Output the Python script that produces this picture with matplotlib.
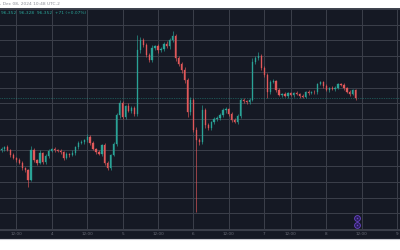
import matplotlib
matplotlib.use("Agg")
import matplotlib.pyplot as plt
from matplotlib.patches import Rectangle
from matplotlib.lines import Line2D

# ---------------- data (hourly candles) ----------------
hours = list(range(7, 128))
first_open = 93000
close = [
    93090, 93220, 93030, 92710, 92520, 92390, 92200, 91880, 91760, 91120,
    93030, 92390, 92200, 92840, 92270, 92650, 92970, 93090, 93030, 92970,
    92900, 92520, 92780, 92710, 92840, 93220, 93480, 93540, 93670, 93860,
    93480, 93090, 92900, 92780, 93350, 92200, 91880, 92710, 93410, 95260,
    96020, 95130, 95830, 95510, 95700, 95320, 99390, 100030, 99710, 99070,
    98750, 99520, 99640, 99390, 99450, 99770, 99640, 100030, 100280, 98880,
    98500, 98120, 97480, 95450, 96210, 94300, 93670, 93540, 95570, 94620,
    94430, 94810, 95000, 95070, 95260, 95570, 95640, 95320, 94940, 94810,
    95190, 96210, 96150, 96080, 96210, 98630, 98880, 99010, 98250, 97800,
    96720, 97350, 97420, 96850, 96530, 96590, 96460, 96650, 96530, 96650,
    96590, 96460, 96400, 96720, 96650, 96720, 96700, 97230, 97350, 97100,
    96850, 96970, 96910, 96970, 97230, 97160, 96970, 96720, 96590, 96850,
    96340,
]
wick_up = [
    120, 90, 150, 80, 110, 70, 130, 100, 90, 60,
    260, 140, 90, 180, 70, 120, 100, 80, 150, 90,
    110, 70, 130, 90, 160, 80, 100, 140, 90, 180,
    100, 120, 80, 150, 90, 110, 130, 70, 160, 120,
    200, 140, 90, 170, 110, 130, 950, 180, 120, 150,
    100, 160, 90, 140, 110, 130, 170, 120, 320, 150,
    130, 110, 180, 140, 160, 120, 200, 150, 320, 110,
    140, 90, 160, 120, 100, 150, 130, 90, 110, 140,
    120, 100, 130, 90, 150, 250, 120, 250, 140, 110,
    130, 160, 100, 90, 120, 80, 110, 70, 100, 90,
    120, 80, 100, 70, 110, 90, 130, 80, 100, 90,
    150, 80, 100, 120, 90, 70, 110, 80, 100, 90,
    60,
]
wick_dn = [
    100, 130, 80, 150, 90, 120, 70, 110, 160, 440,
    90, 140, 110, 80, 150, 100, 120, 90, 130, 70,
    100, 150, 90, 120, 80, 140, 110, 90, 130, 100,
    120, 80, 140, 90, 110, 150, 100, 130, 90, 120,
    180, 110, 150, 90, 130, 100, 120, 160, 140, 110,
    150, 120, 100, 170, 130, 110, 140, 160, 120, 200,
    140, 180, 160, 320, 200, 150, 4580, 180, 140, 160,
    120, 150, 100, 140, 110, 130, 160, 100, 120, 90,
    130, 110, 150, 100, 120, 90, 140, 110, 130, 100,
    380, 120, 90, 110, 80, 100, 70, 120, 90, 100,
    80, 110, 90, 70, 100, 80, 120, 90, 70, 110,
    90, 100, 80, 120, 70, 90, 110, 80, 100, 90,
    120,
]
tick_pos = [12, 24, 36, 48, 60, 72, 84, 96, 105, 117, 129, 141]
tick_labels = ["12:00", "4", "12:00", "5", "12:00", "6",
               "12:00", "7", "12:00", "8", "12:00", "9"]
grid_levels = list(range(88000, 103000, 1000))
header_ohlc = "96,352  96,328  96,352  +71 (+0.07%)"
header_time = ", Dec 08, 2024 10:48 UTC-2"

# ---------------- style ----------------
BG = "#151924"
GRID = "#3a3e49"
UP = "#2aa397"
DN = "#e0585a"
W, H = 400, 250

opens = [first_open] + close[:-1]
highs = [max(o, c) + u for o, c, u in zip(opens, close, wick_up)]
lows = [min(o, c) - d for o, c, d in zip(opens, close, wick_dn)]

fig = plt.figure(figsize=(4, 2.5), dpi=100, facecolor="white")

# dark panel (chart + time scale)
fig.patches.append(Rectangle((0, 1 - 238.7 / H), 1, (238.7 - 8) / H,
                             transform=fig.transFigure, facecolor=BG,
                             edgecolor="none", zorder=-5))
fig.lines.append(Line2D([0, 1], [1 - 8.2 / H] * 2, transform=fig.transFigure,
                        color="#4a4e59", lw=0.6, zorder=-4))
fig.lines.append(Line2D([0, 1], [1 - 239.2 / H] * 2, transform=fig.transFigure,
                        color="#c9cbd1", lw=0.8, zorder=-4))

ax = fig.add_axes([0, 1 - 229.7 / H, 1, (229.7 - 8.6) / H])
ax.set_zorder(1)
ax.set_facecolor(BG)
ax.set_xlim(6.48, 141.98)
ax.set_ylim(102570 - 63.6 * 229.7, 102570 - 63.6 * 8.6)

ax.set_yticks(grid_levels)
ax.set_xticks(tick_pos, tick_labels)
ax.grid(True, color=GRID, lw=0.75)
ax.set_axisbelow(True)
ax.tick_params(axis="y", left=False, labelleft=False)
ax.tick_params(axis="x", length=0, pad=2.0, labelsize=3, colors="#6b6e79")
for s in ["top", "left", "right"]:
    ax.spines[s].set_visible(False)
ax.spines["bottom"].set_color(GRID)
ax.spines["bottom"].set_linewidth(0.8)

cols = [UP if c >= o else DN for o, c in zip(opens, close)]
ax.vlines(hours, lows, highs, colors=cols, lw=0.45, zorder=3)
ax.bar(hours, [c - o for o, c in zip(opens, close)], bottom=opens,
       width=0.42, color=cols, edgecolor=cols, lw=0.25, zorder=4)

# last price line
ax.axhline(close[-1], color=UP, lw=0.5, ls=(0, (1, 1.5)), alpha=0.8, zorder=2)

# event marker icons near the last bar
tr = ax.get_xaxis_transform()
for yf in (0.0507, 0.0213):
    ax.plot([hours[-1] + 0.4], [yf], transform=tr, marker="o", ms=4.2,
            mfc="#2b1f5e", mec="#6a45c8", mew=0.6, zorder=6, clip_on=False)
    ax.plot([hours[-1] + 0.4], [yf], transform=tr, marker="o", ms=1.1,
            mfc="#6a45c8", mec="none", zorder=7, clip_on=False)

# header texts
fig.text(0.0, 1 - 4 / H, header_time, fontsize=3.2, color="#8a8d96",
         va="center", ha="left")
fig.text(0.003, 1 - 13 / H, header_ohlc, fontsize=3.2, color=UP,
         va="center", ha="left", zorder=5)

fig.savefig("out.png", dpi=100, facecolor="white")
